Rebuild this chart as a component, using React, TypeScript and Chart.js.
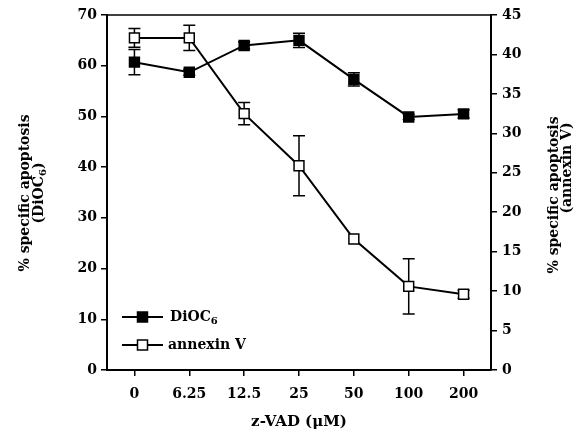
import React, { useEffect, useRef } from "react";
import { Chart, registerables } from "chart.js";

Chart.register(...registerables);

const categories = ["0", "6.25", "12.5", "25", "50", "100", "200"];
const dioc6 = [60.7, 58.7, 64.0, 65.0, 57.3, 49.9, 50.5];
const dioc6Err = [2.5, 0.6, 0.7, 1.4, 1.3, 0.5, 0.8];
const annexin = [42.1, 42.1, 32.5, 25.9, 16.6, 10.6, 9.6];
const annexinErr = [1.2, 1.6, 1.4, 3.8, 0, 3.5, 0.5];
const leftTicks = [0, 10, 20, 30, 40, 50, 60, 70];
const rightTicks = [0, 5, 10, 15, 20, 25, 30, 35, 40, 45];

const FONT = "'DejaVu Serif', serif";

function drawSub(ctx: CanvasRenderingContext2D, base: string, sub: string, rest: string, x: number, y: number, size: number, align: "left" | "center") {
  ctx.font = `bold ${size}px ${FONT}`;
  const w1 = ctx.measureText(base).width;
  const w3 = ctx.measureText(rest).width;
  ctx.font = `bold ${Math.round(size * 0.72)}px ${FONT}`;
  const w2 = ctx.measureText(sub).width;
  const total = w1 + w2 + w3;
  let sx = align === "center" ? x - total / 2 : x;
  ctx.textAlign = "left";
  ctx.textBaseline = "middle";
  ctx.font = `bold ${size}px ${FONT}`;
  ctx.fillText(base, sx, y);
  ctx.font = `bold ${Math.round(size * 0.72)}px ${FONT}`;
  ctx.fillText(sub, sx + w1, y + size * 0.3);
  ctx.font = `bold ${size}px ${FONT}`;
  ctx.fillText(rest, sx + w1 + w2, y);
}

const decorPlugin = {
  id: "decor",
  beforeDatasetsDraw(chart: any) {
    const ctx = chart.ctx;
    ctx.save();
    ctx.strokeStyle = "#000";
    ctx.lineWidth = 1.5;
    const sets = [
      { idx: 0, vals: dioc6, errs: dioc6Err, scale: chart.scales.y },
      { idx: 1, vals: annexin, errs: annexinErr, scale: chart.scales.y2 },
    ];
    sets.forEach((s) => {
      const meta = chart.getDatasetMeta(s.idx);
      meta.data.forEach((pt: any, i: number) => {
        const e = s.errs[i];
        if (!e) return;
        const yT = s.scale.getPixelForValue(s.vals[i] + e);
        const yB = s.scale.getPixelForValue(s.vals[i] - e);
        ctx.beginPath();
        ctx.moveTo(pt.x, yT);
        ctx.lineTo(pt.x, yB);
        ctx.moveTo(pt.x - 6, yT);
        ctx.lineTo(pt.x + 6, yT);
        ctx.moveTo(pt.x - 6, yB);
        ctx.lineTo(pt.x + 6, yB);
        ctx.stroke();
      });
    });
    ctx.restore();
  },
  afterDraw(chart: any) {
    const ctx = chart.ctx;
    const a = chart.chartArea;
    ctx.save();
    ctx.fillStyle = "#000";
    ctx.strokeStyle = "#000";
    // top border
    ctx.lineWidth = 1.5;
    ctx.beginPath();
    ctx.moveTo(a.left, a.top);
    ctx.lineTo(a.right, a.top);
    ctx.stroke();

    // x title
    ctx.font = `bold 15px ${FONT}`;
    ctx.textAlign = "center";
    ctx.textBaseline = "middle";
    ctx.fillText("z-VAD (\u03BCM)", (a.left + a.right) / 2, 422);

    // left title
    ctx.save();
    ctx.translate(25, 193);
    ctx.rotate(-Math.PI / 2);
    ctx.font = `bold 14px ${FONT}`;
    ctx.textAlign = "center";
    ctx.textBaseline = "middle";
    ctx.fillText("% specific apoptosis", 0, 0);
    drawSub(ctx, "(DiOC", "6", ")", 0, 14, 14, "center");
    ctx.restore();

    // right title
    ctx.save();
    ctx.translate(554, 195);
    ctx.rotate(-Math.PI / 2);
    ctx.font = `bold 14px ${FONT}`;
    ctx.textAlign = "center";
    ctx.textBaseline = "middle";
    ctx.fillText("% specific apoptosis", 0, 0);
    ctx.fillText("(annexin V)", 27, 13);
    ctx.restore();

    // legend
    const items = [
      { y: 317, fill: "#000" },
      { y: 345, fill: "#fff" },
    ];
    items.forEach((it, k) => {
      ctx.lineWidth = 2;
      ctx.beginPath();
      ctx.moveTo(122, it.y);
      ctx.lineTo(163, it.y);
      ctx.stroke();
      ctx.fillStyle = it.fill;
      ctx.fillRect(137.5, it.y - 5, 10, 10);
      ctx.lineWidth = 1.5;
      ctx.strokeRect(137.5, it.y - 5, 10, 10);
      ctx.fillStyle = "#000";
      if (k === 0) {
        drawSub(ctx, "DiOC", "6", "", 170, it.y, 14, "left");
      } else {
        ctx.font = `bold 14px ${FONT}`;
        ctx.textAlign = "left";
        ctx.textBaseline = "middle";
        ctx.fillText("annexin V", 168, it.y);
      }
    });
    ctx.restore();
  },
};

export default function App() {
  const ref = useRef<HTMLCanvasElement>(null);
  useEffect(() => {
    document.body.style.margin = "0";
    const tickFont = { family: FONT, size: 14, weight: "bold" as const };
    const chart = new Chart(ref.current!, {
      type: "line",
      data: {
        labels: categories,
        datasets: [
          {
            label: "DiOC6",
            data: dioc6,
            yAxisID: "y",
            borderColor: "#000",
            borderWidth: 2,
            backgroundColor: "#000",
            pointStyle: "rect",
            pointRadius: 7,
            pointBorderWidth: 1.5,
            pointBackgroundColor: "#000",
            pointBorderColor: "#000",
            tension: 0,
          },
          {
            label: "annexin V",
            data: annexin,
            yAxisID: "y2",
            borderColor: "#000",
            borderWidth: 2,
            backgroundColor: "#fff",
            pointStyle: "rect",
            pointRadius: 7,
            pointBorderWidth: 1.5,
            pointBackgroundColor: "#fff",
            pointBorderColor: "#000",
            tension: 0,
          },
        ],
      },
      options: {
        animation: false,
        responsive: false,
        maintainAspectRatio: false,
        layout: { padding: { top: 15, left: 0, right: 0, bottom: 0 } },
        plugins: { legend: { display: false }, tooltip: { enabled: false } },
        scales: {
          x: {
            type: "category",
            offset: true,
            grid: { display: true, drawOnChartArea: false, drawTicks: true, tickLength: 6, color: "#000", lineWidth: 1.5, offset: false },
            border: { display: true, color: "#000", width: 2 },
            ticks: { color: "#000", font: tickFont, padding: 10, maxRotation: 0 },
            afterFit: (s: any) => { s.height = 69; },
          },
          y: {
            position: "left",
            min: 0,
            max: 70,
            afterBuildTicks: (s: any) => { s.ticks = leftTicks.map((v) => ({ value: v })); },
            grid: { display: true, drawOnChartArea: false, drawTicks: true, tickLength: 6, color: "#000", lineWidth: 1.5 },
            border: { display: true, color: "#000", width: 2 },
            ticks: { color: "#000", font: tickFont, padding: 4 },
            afterFit: (s: any) => { s.width = 107; },
          },
          y2: {
            position: "right",
            min: 0,
            max: 45,
            afterBuildTicks: (s: any) => { s.ticks = rightTicks.map((v) => ({ value: v })); },
            grid: { display: true, drawOnChartArea: false, drawTicks: true, tickLength: 6, color: "#000", lineWidth: 1.5 },
            border: { display: true, color: "#000", width: 2 },
            ticks: { color: "#000", font: tickFont, padding: 5 },
            afterFit: (s: any) => { s.width = 88; },
          },
        },
      },
      plugins: [decorPlugin],
    });
    return () => chart.destroy();
  }, []);
  return (
    <div style={{ width: 579, height: 439, background: "#fff" }}>
      <canvas ref={ref} width={579} height={439} style={{ display: "block", width: 579, height: 439 }} />
    </div>
  );
}
